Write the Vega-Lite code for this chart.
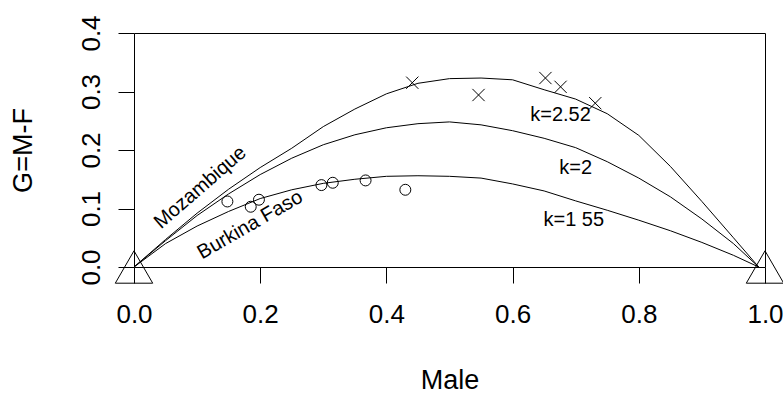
{
  "$schema": "https://vega.github.io/schema/vega-lite/v6.json",
  "width": 631,
  "height": 234,
  "autosize": {"type": "none"},
  "padding": {"left": 134, "top": 33, "right": 18, "bottom": 127},
  "background": "white",
  "config": {
    "view": {"stroke": "black", "strokeWidth": 1},
    "font": "Liberation Sans",
    "axis": {
      "grid": false,
      "domain": false,
      "tickColor": "black",
      "tickSize": 16,
      "labelColor": "black",
      "labelFont": "Liberation Sans",
      "labelFontSize": 26,
      "labelFlush": false,
      "labelOverlap": false,
      "titleFont": "Liberation Sans",
      "titleFontSize": 27,
      "titleFontWeight": "normal",
      "titleColor": "black"
    }
  },
  "datasets": {
    "curves": [
      {"k": "k=1.55", "male": 0.0, "g": 0.0},
      {"k": "k=1.55", "male": 0.05, "g": 0.04},
      {"k": "k=1.55", "male": 0.1, "g": 0.07},
      {"k": "k=1.55", "male": 0.15, "g": 0.095},
      {"k": "k=1.55", "male": 0.2, "g": 0.117},
      {"k": "k=1.55", "male": 0.25, "g": 0.132},
      {"k": "k=1.55", "male": 0.3, "g": 0.143},
      {"k": "k=1.55", "male": 0.35, "g": 0.15},
      {"k": "k=1.55", "male": 0.4, "g": 0.155},
      {"k": "k=1.55", "male": 0.45, "g": 0.156},
      {"k": "k=1.55", "male": 0.5, "g": 0.155},
      {"k": "k=1.55", "male": 0.55, "g": 0.152},
      {"k": "k=1.55", "male": 0.6, "g": 0.142},
      {"k": "k=1.55", "male": 0.65, "g": 0.13},
      {"k": "k=1.55", "male": 0.7, "g": 0.113},
      {"k": "k=1.55", "male": 0.75, "g": 0.097},
      {"k": "k=1.55", "male": 0.8, "g": 0.08},
      {"k": "k=1.55", "male": 0.85, "g": 0.062},
      {"k": "k=1.55", "male": 0.9, "g": 0.042},
      {"k": "k=1.55", "male": 0.95, "g": 0.02},
      {"k": "k=1.55", "male": 0.99, "g": 0.0},
      {"k": "k=2", "male": 0.0, "g": 0.0},
      {"k": "k=2", "male": 0.05, "g": 0.045},
      {"k": "k=2", "male": 0.1, "g": 0.088},
      {"k": "k=2", "male": 0.15, "g": 0.125},
      {"k": "k=2", "male": 0.2, "g": 0.158},
      {"k": "k=2", "male": 0.25, "g": 0.186},
      {"k": "k=2", "male": 0.3, "g": 0.209},
      {"k": "k=2", "male": 0.35, "g": 0.226},
      {"k": "k=2", "male": 0.4, "g": 0.238},
      {"k": "k=2", "male": 0.45, "g": 0.245},
      {"k": "k=2", "male": 0.5, "g": 0.248},
      {"k": "k=2", "male": 0.55, "g": 0.243},
      {"k": "k=2", "male": 0.6, "g": 0.233},
      {"k": "k=2", "male": 0.65, "g": 0.22},
      {"k": "k=2", "male": 0.7, "g": 0.204},
      {"k": "k=2", "male": 0.75, "g": 0.18},
      {"k": "k=2", "male": 0.8, "g": 0.152},
      {"k": "k=2", "male": 0.85, "g": 0.12},
      {"k": "k=2", "male": 0.9, "g": 0.082},
      {"k": "k=2", "male": 0.95, "g": 0.04},
      {"k": "k=2", "male": 0.99, "g": 0.0},
      {"k": "k=2.52", "male": 0.0, "g": 0.0},
      {"k": "k=2.52", "male": 0.05, "g": 0.047},
      {"k": "k=2.52", "male": 0.1, "g": 0.092},
      {"k": "k=2.52", "male": 0.15, "g": 0.133},
      {"k": "k=2.52", "male": 0.2, "g": 0.17},
      {"k": "k=2.52", "male": 0.25, "g": 0.203},
      {"k": "k=2.52", "male": 0.3, "g": 0.24},
      {"k": "k=2.52", "male": 0.35, "g": 0.27},
      {"k": "k=2.52", "male": 0.4, "g": 0.296},
      {"k": "k=2.52", "male": 0.45, "g": 0.314},
      {"k": "k=2.52", "male": 0.5, "g": 0.322},
      {"k": "k=2.52", "male": 0.55, "g": 0.323},
      {"k": "k=2.52", "male": 0.6, "g": 0.32},
      {"k": "k=2.52", "male": 0.65, "g": 0.303},
      {"k": "k=2.52", "male": 0.7, "g": 0.287},
      {"k": "k=2.52", "male": 0.75, "g": 0.262},
      {"k": "k=2.52", "male": 0.8, "g": 0.225},
      {"k": "k=2.52", "male": 0.85, "g": 0.172},
      {"k": "k=2.52", "male": 0.9, "g": 0.112},
      {"k": "k=2.52", "male": 0.95, "g": 0.05},
      {"k": "k=2.52", "male": 0.99, "g": 0.0}
    ],
    "burkina": [
      {"male": 0.148, "g": 0.112},
      {"male": 0.185, "g": 0.103},
      {"male": 0.198, "g": 0.115},
      {"male": 0.297, "g": 0.14},
      {"male": 0.315, "g": 0.144},
      {"male": 0.367, "g": 0.148},
      {"male": 0.43, "g": 0.132}
    ],
    "mozambique": [
      {"male": 0.441, "g": 0.315},
      {"male": 0.546, "g": 0.294},
      {"male": 0.652, "g": 0.323},
      {"male": 0.676, "g": 0.308},
      {"male": 0.731, "g": 0.28}
    ],
    "ends": [
      {"male": 0.0, "g": 0.0},
      {"male": 1.0, "g": 0.0}
    ],
    "labels": [
      {"text": "Mozambique", "male": 0.105, "g": 0.136, "angle": -41},
      {"text": "Burkina Faso", "male": 0.184, "g": 0.072, "angle": -30},
      {"text": "k=2.52", "male": 0.676, "g": 0.26, "angle": 0},
      {"text": "k=2", "male": 0.7, "g": 0.169, "angle": 0},
      {"text": "k=1 55", "male": 0.697, "g": 0.08, "angle": 0}
    ]
  },
  "encoding": {
    "x": {
      "field": "male",
      "type": "quantitative",
      "scale": {"domain": [0, 1], "nice": false, "zero": false},
      "axis": {
        "title": "Male",
        "values": [0, 0.2, 0.4, 0.6, 0.8, 1.0],
        "format": ".1f",
        "labelPadding": 18,
        "titlePadding": 40
      }
    },
    "y": {
      "field": "g",
      "type": "quantitative",
      "scale": {"domain": [0, 0.4], "nice": false},
      "axis": {
        "title": "G=M-F",
        "values": [0, 0.1, 0.2, 0.3, 0.4],
        "format": ".1f",
        "labelAngle": 270,
        "labelAlign": "center",
        "labelBaseline": "bottom",
        "labelPadding": 14,
        "titlePadding": 41
      }
    }
  },
  "layer": [
    {
      "data": {"name": "curves"},
      "mark": {"type": "line", "color": "black", "strokeWidth": 1, "clip": true},
      "encoding": {"detail": {"field": "k", "type": "nominal"}}
    },
    {
      "data": {"name": "burkina"},
      "mark": {"type": "point", "shape": "circle", "filled": false, "color": "black", "strokeWidth": 1, "size": 120, "opacity": 1}
    },
    {
      "data": {"name": "mozambique"},
      "mark": {"type": "point", "shape": "M-1,-1L1,1M-1,1L1,-1", "filled": false, "color": "black", "strokeWidth": 1, "size": 150, "opacity": 1}
    },
    {
      "data": {"name": "ends"},
      "mark": {"type": "point", "shape": "triangle-up", "filled": false, "color": "black", "strokeWidth": 1, "size": 1400, "opacity": 1}
    },
    {
      "data": {"name": "labels"},
      "mark": {"type": "text", "color": "black", "fontSize": 20, "font": "Liberation Sans", "align": "center", "baseline": "middle"},
      "encoding": {
        "text": {"field": "text", "type": "nominal"},
        "angle": {"field": "angle", "type": "quantitative", "scale": null}
      }
    }
  ]
}
